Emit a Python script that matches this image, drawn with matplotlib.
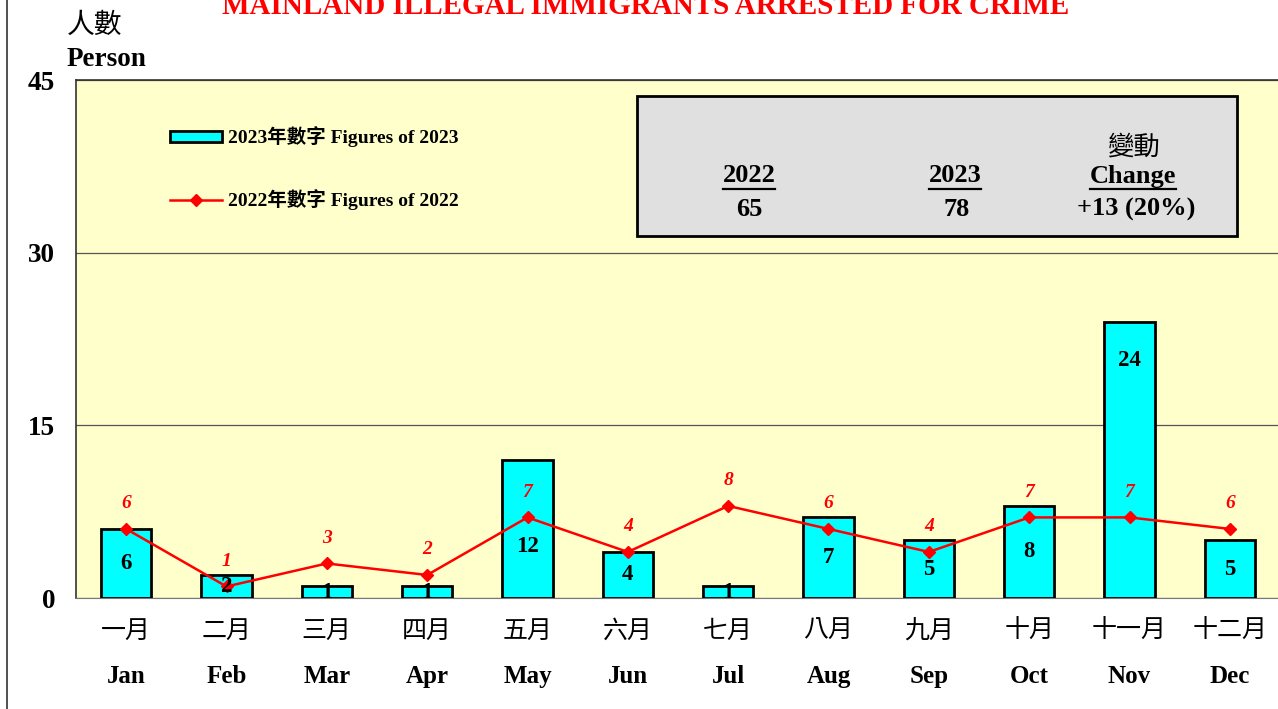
import numpy as np
import matplotlib
matplotlib.use("Agg")
import matplotlib.pyplot as plt
from matplotlib.lines import Line2D
from matplotlib.patches import Rectangle

# Data
months_zh = ["一月", "二月", "三月", "四月", "五月", "六月",
             "七月", "八月", "九月", "十月", "十一月", "十二月"]
months_en = ["Jan", "Feb", "Mar", "Apr", "May", "Jun",
             "Jul", "Aug", "Sep", "Oct", "Nov", "Dec"]
figs_2023 = [6, 2, 1, 1, 12, 4, 1, 7, 5, 8, 24, 5]
figs_2022 = [6, 1, 3, 2, 7, 4, 8, 6, 4, 7, 7, 6]
total_2022 = 65
total_2023 = 78
change_txt = "+13 (20%)"

SERIF = ["Liberation Serif", "DejaVu Serif"]
CJK = ["Noto Sans CJK TC", "DejaVu Sans"]
MIX = ["Liberation Serif", "Noto Sans CJK TC"]

W, H = 1278, 709
fig = plt.figure(figsize=(W / 100, H / 100), dpi=100)
fig.patch.set_facecolor("white")

def fx(px):
    return px / W

def fy(py):
    return 1 - py / H

ax = fig.add_axes([fx(76), fy(598), fx(1280) - fx(76), fy(80) - fy(598)])
ax.set_facecolor("#FFFFCC")
x = np.arange(len(months_en))

ax.bar(x, figs_2023, width=0.5, color="#00FFFF", edgecolor="black",
       linewidth=2.0, zorder=3)
ax.plot(x, figs_2022, color="#FF0000", lw=1.8, marker="D", ms=6.5,
        zorder=4)

ax.set_xlim(-0.5, 11.5)
ax.set_ylim(0, 45)
ax.set_yticks([0, 15, 30, 45])
ax.set_yticklabels(["0", "15", "30", "45"], fontfamily=SERIF,
                   fontweight="bold", fontsize=19.5)
ax.tick_params(axis="y", length=0, pad=15)
ax.set_xticks([])
ax.yaxis.grid(True, color="#555555", lw=0.9, zorder=1)
ax.set_axisbelow(True)
for s in ["top", "left"]:
    ax.spines[s].set_color("#333333")
    ax.spines[s].set_linewidth(1.2)
ax.spines["bottom"].set_color("#777777")
ax.spines["right"].set_visible(False)

# bar labels (mostly centred in the bar)
for i, v in enumerate(figs_2023):
    if v >= 20:
        ly = v - 3.4
    elif v >= 10:
        ly = 4.5
    else:
        ly = v / 2
    ax.text(i, ly, str(v), ha="center", va="center", fontfamily=SERIF,
            fontweight="bold", fontsize=16.5, zorder=5)

# 2022 labels
for i, v in enumerate(figs_2022):
    ax.annotate(str(v), (i, v), xytext=(0, 18), textcoords="offset points",
                ha="center", va="center", color="#FF0000", fontfamily=SERIF,
                fontweight="bold", fontstyle="italic", fontsize=14, zorder=5)

# month labels
for i in x:
    ax.text(i, -2.85, months_zh[i], ha="center", va="center",
            fontfamily=CJK, fontsize=18)
    ax.text(i, -6.8, months_en[i], ha="center", va="center",
            fontfamily=SERIF, fontweight="bold", fontsize=18)

# legend
ax.add_patch(Rectangle((fx(170), fy(142)), fx(222) - fx(170), fy(131) - fy(142),
                       transform=fig.transFigure, facecolor="#00FFFF",
                       edgecolor="black", lw=2, zorder=6))
fig.add_artist(Line2D([fx(170), fx(222)], [fy(200), fy(200)], color="#FF0000",
                      lw=1.8))
fig.add_artist(Line2D([fx(196)], [fy(200)], color="#FF0000", marker="D", ms=6))
fig.text(fx(228), fy(137), "2023年數字 Figures of 2023", ha="left", va="center",
         fontfamily=MIX, fontweight="bold", fontsize=14)
fig.text(fx(228), fy(200), "2022年數字 Figures of 2022", ha="left", va="center",
         fontfamily=MIX, fontweight="bold", fontsize=14)

# summary box
fig.add_artist(Rectangle((fx(637), fy(236)), fx(1237) - fx(637), fy(96) - fy(236),
                         transform=fig.transFigure, facecolor="#E0E0E0",
                         edgecolor="black", lw=2, zorder=6))
under = []
under.append(fig.text(fx(749), fy(176), "2022", ha="center", va="center",
                      fontfamily=SERIF, fontweight="bold", fontsize=19, zorder=7))
under.append(fig.text(fx(955), fy(176), "2023", ha="center", va="center",
                      fontfamily=SERIF, fontweight="bold", fontsize=19, zorder=7))
under.append(fig.text(fx(1133), fy(176), "Change", ha="center", va="center",
                      fontfamily=SERIF, fontweight="bold", fontsize=19, zorder=7))
fig.text(fx(1133), fy(147), "變動", ha="center", va="center", fontfamily=CJK,
         fontsize=19, zorder=7)
fig.text(fx(749), fy(209), str(total_2022), ha="center", va="center",
         fontfamily=SERIF, fontweight="bold", fontsize=19, zorder=7)
fig.text(fx(957), fy(209), str(total_2023), ha="center", va="center",
         fontfamily=SERIF, fontweight="bold", fontsize=19, zorder=7)
fig.text(fx(1136), fy(209), change_txt, ha="center", va="center",
         fontfamily=SERIF, fontweight="bold", fontsize=19, zorder=7)

# axis title and chart title
fig.text(fx(67), fy(25), "人數", ha="left", va="center", fontfamily=CJK,
         fontsize=20)
fig.text(fx(67), fy(60), "Person", ha="left", va="center", fontfamily=SERIF,
         fontweight="bold", fontsize=19.5)
fig.text(fx(646), fy(14), "MAINLAND ILLEGAL IMMIGRANTS ARRESTED FOR CRIME",
         ha="center", va="baseline", color="#FF0000", fontfamily=SERIF,
         fontweight="bold", fontsize=21)

# left border line
fig.add_artist(Line2D([fx(7), fx(7)], [0, 1], color="#333333", lw=1.2))

# underline the box headers
fig.canvas.draw()
r = fig.canvas.get_renderer()
for t in under:
    bb = t.get_window_extent(r)
    yy = fy(189)
    fig.add_artist(Line2D([bb.x0 / W, bb.x1 / W], [yy, yy], color="black",
                          lw=1.6, zorder=8))

fig.savefig("out.png", dpi=100)
